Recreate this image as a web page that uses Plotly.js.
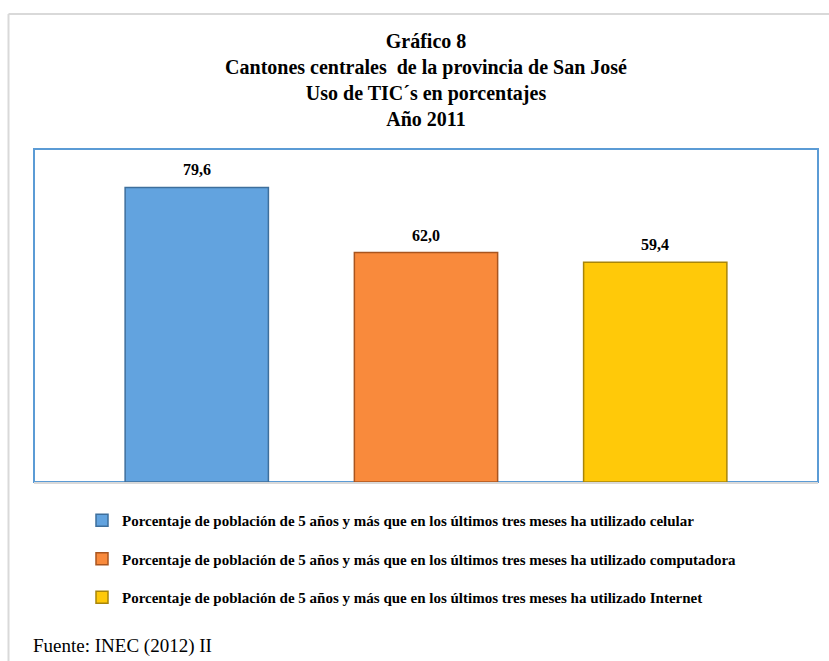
<!DOCTYPE html>
<html>
<head>
<meta charset="utf-8">
<script src="https://cdn.plot.ly/plotly-3.0.1.min.js"></script>
<style>
  html, body { margin: 0; padding: 0; background: #ffffff; }
  #chart { width: 829px; height: 661px; }
</style>
</head>
<body>
<div id="chart"></div>
<script>
// Data
const categories = ["Celular", "Computadora", "Internet"];
const values = [79.6, 62.0, 59.4];
const seriesNames = [
  "Porcentaje de población de 5 años y más que en los últimos tres meses ha utilizado celular",
  "Porcentaje de población de 5 años y más que en los últimos tres meses ha utilizado computadora",
  "Porcentaje de población de 5 años y más que en los últimos tres meses ha utilizado Internet"
];
const fillColors = ["#62A3DF", "#F98A3C", "#FFC909"];
const edgeColors = ["#3E6F9C", "#A9551F", "#A8850A"];

const titleText = "Gráfico 8<br>Cantones centrales  de la provincia de San José<br>Uso de TIC´s en porcentajes<br>Año 2011";
const sourceText = "Fuente: INEC (2012) II";

const serif = "'Liberation Serif', 'Times New Roman', serif";

const traces = categories.map((c, i) => ({
  type: "bar",
  x: [c],
  y: [values[i]],
  name: seriesNames[i],
  legendgroup: "g" + i,
  width: 0.625,
  marker: { color: fillColors[i], line: { color: edgeColors[i], width: 1.5 } },
  hoverinfo: "skip"
}));

const fmt = v => v.toFixed(1).replace(".", ",");

const labelAnnotations = categories.map((c, i) => ({
  x: c, y: values[i], xref: "x", yref: "y",
  text: fmt(values[i]),
  showarrow: false,
  xanchor: "center", yanchor: "bottom",
  yshift: 7,
  font: { family: serif, size: 16, color: "#000000", weight: "bold" }
}));

const layout = {
  width: 829,
  height: 661,
  separators: ",.",
  paper_bgcolor: "#ffffff",
  plot_bgcolor: "#ffffff",
  margin: { l: 34, r: 11, t: 149, b: 179, autoexpand: false },
  barmode: "overlay",
  font: { family: serif, color: "#000000" },
  title: {
    text: titleText,
    font: { family: serif, size: 20, color: "#000000", weight: "bold" },
    x: 0.5, xref: "paper", xanchor: "center",
    y: 1 - 48 / 661, yref: "container", yanchor: "top"
  },
  xaxis: {
    type: "category",
    range: [-0.71, 2.71],
    showticklabels: false,
    ticks: "",
    showgrid: false,
    zeroline: false,
    showline: true,
    linecolor: "#D9D9D9",
    linewidth: 2,
    fixedrange: true
  },
  yaxis: {
    range: [0, 90],
    showticklabels: false,
    ticks: "",
    showgrid: false,
    zeroline: false,
    showline: false,
    fixedrange: true
  },
  showlegend: true,
  legend: {
    orientation: "v",
    x: 82 / 829, xref: "container", xanchor: "left",
    y: 1 - 504 / 661, yref: "container", yanchor: "top",
    font: { family: serif, size: 15, color: "#000000", weight: "bold" },
    traceorder: "grouped",
    tracegroupgap: 16,
    bgcolor: "rgba(0,0,0,0)"
  },
  shapes: [
    { type: "rect", xref: "paper", yref: "paper", x0: 0, x1: 1, y0: 0, y1: 1,
      line: { color: "#5B9BD5", width: 2 }, layer: "below" },
    { type: "line", xref: "paper", yref: "paper",
      x0: (8.5 - 34) / 784, x1: (829 - 34) / 784, y0: (482 - 14) / 333, y1: (482 - 14) / 333,
      line: { color: "#D9D9D9", width: 2 } },
    { type: "line", xref: "paper", yref: "paper",
      x0: (8.5 - 34) / 784, x1: (8.5 - 34) / 784, y0: (482 - 14) / 333, y1: (482 - 661) / 333,
      line: { color: "#D9D9D9", width: 2 } }
  ],
  annotations: labelAnnotations.concat([
    { text: sourceText, xref: "paper", yref: "paper",
      x: (31 - 34) / 784, xanchor: "left",
      y: (482 - 659) / 333, yanchor: "bottom",
      showarrow: false,
      font: { family: serif, size: 19, color: "#000000" } }
  ])
};

Plotly.newPlot("chart", traces, layout, { displayModeBar: false, responsive: false });
</script>
</body>
</html>
